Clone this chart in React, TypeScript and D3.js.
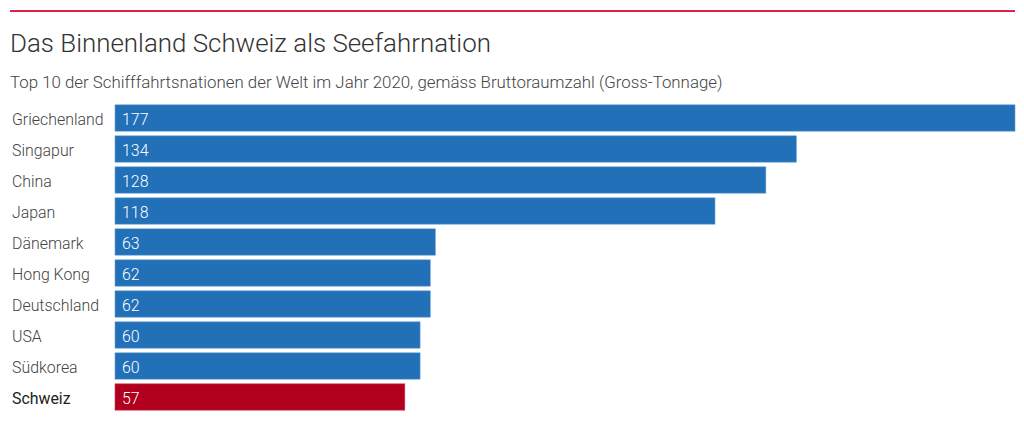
import React from "react";
import * as d3 from "d3";

const categories = ["Griechenland", "Singapur", "China", "Japan", "Dänemark", "Hong Kong", "Deutschland", "USA", "Südkorea", "Schweiz"];
const values = [177, 134, 128, 118, 63, 62, 62, 60, 60, 57];
const highlight = "Schweiz";
const title = "Das Binnenland Schweiz als Seefahrnation";
const subtitle = "Top 10 der Schifffahrtsnationen der Welt im Jahr 2020, gemäss Bruttoraumzahl (Gross-Tonnage)";

export default function App() {
  const W = 1024, H = 428;
  const x0 = 115, x1 = 1015;
  const x = d3.scaleLinear().domain([0, d3.max(values)!]).range([x0, x1]);
  const y = d3.scaleBand<string>().domain(categories).range([102.5, 412.5]).paddingInner(0.15).paddingOuter(0.075);
  const font = "Roboto, 'Helvetica Neue', Arial, sans-serif";
  return (
    <svg width={W} height={H} style={{ position: "absolute", left: 0, top: 0, display: "block" }}>
      <rect width={W} height={H} fill="#fff" />
      <line x1={10} x2={1015} y1={11} y2={11} stroke="#e0224a" strokeWidth={2} />
      <text x={10} y={52} fontFamily={font} fontWeight={300} fontSize={25.9} fill="#333">{title}</text>
      <text x={10} y={88} fontFamily={font} fontWeight={300} fontSize={16.85} fill="#444">{subtitle}</text>
      {categories.map((c, i) => {
        const yy = y(c)!;
        const bh = y.bandwidth();
        const hl = c === highlight;
        return (
          <g key={c}>
            <rect x={x(0)} y={yy} width={x(values[i]) - x(0)} height={bh} fill={hl ? "#b1001e" : "#2170b8"} stroke={hl ? "#d0405a" : "#6aa0d6"} strokeWidth={0.6} />
            <text x={12} y={yy + bh / 2} dy="0.45em" fontFamily={font} fontWeight={hl ? 400 : 300} fontSize={15.9} fill={hl ? "#222" : "#444"}>{c}</text>
            <text x={122} y={yy + bh / 2} dy="0.45em" fontFamily={font} fontWeight={300} fontSize={15.9} fill="#fff">{values[i]}</text>
          </g>
        );
      })}
    </svg>
  );
}
